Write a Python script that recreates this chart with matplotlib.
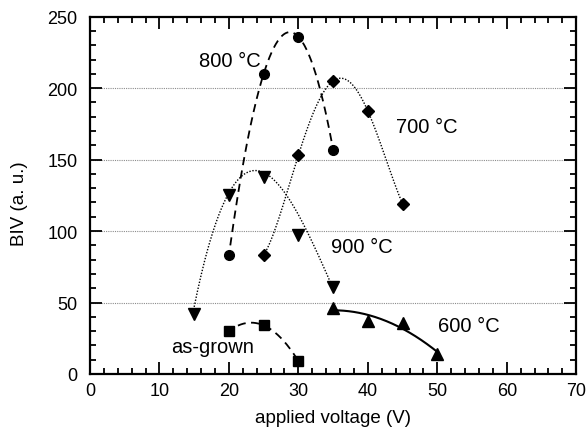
import numpy as np
import matplotlib
matplotlib.use('Agg')
import matplotlib.pyplot as plt
from matplotlib.ticker import MultipleLocator

plt.rcParams['font.family'] = ['Liberation Sans', 'DejaVu Sans']

#=========================#
# data
#=========================#

v_800 = [20, 25, 30, 35]
biv_800 = [83, 210, 236, 157]

v_700 = [25, 30, 35, 40, 45]
biv_700 = [83, 153, 205, 184, 119]

v_900 = [15, 20, 25, 30, 35]
biv_900 = [42, 125, 138, 97, 61]

# the 900 C guide curve does not go through its markers, so it is read separately
v_900_curve = [15.0, 16.6, 17.8, 19.0, 20.4, 22.6, 25.0, 26.9, 28.8, 30.7, 32.7, 34.3, 35.0]
biv_900_curve = [47, 80, 101, 119, 130, 138.5, 140.5, 135, 122, 106, 83, 67, 61]

v_600 = [35, 40, 45, 50]
biv_600 = [46, 37, 36, 14]

v_asgrown = [20, 25, 30]
biv_asgrown = [30, 34, 9]

labels = ['800 °C', '700 °C', '900 °C', '600 °C', 'as-grown']

#=========================#
# figure
#=========================#

fig = plt.figure(figsize=(5.88, 4.31), dpi=100)
ax = fig.add_axes([0.153, 0.130, 0.827, 0.829])

def fit_curve(x, y, deg, style, lw, x0=None, x1=None):
    p = np.polyfit(x, y, deg)
    xs = np.linspace(x0 if x0 is not None else min(x), x1 if x1 is not None else max(x), 200)
    ax.plot(xs, np.polyval(p, xs), color='k', linestyle=style, linewidth=lw, zorder=2)

dash = (0, (4.5, 3))
dot = (0, (1, 1.2))
fit_curve(v_800, biv_800, 3, dash, 1.3, x0=20.2)
fit_curve(v_700, biv_700, 4, dot, 1.0)
fit_curve(v_900_curve, biv_900_curve, 4, dot, 1.0)
fit_curve(v_600, biv_600, 2, '-', 1.5)
fit_curve(v_asgrown, biv_asgrown, 2, dash, 1.3, x0=21.3)

ms = 7
ax.plot(v_800, biv_800, 'o', color='k', markersize=ms, zorder=3)
ax.plot(v_700, biv_700, 'D', color='k', markersize=ms - 1, zorder=3)
ax.plot(v_900, biv_900, 'v', color='k', markersize=ms + 1, zorder=3)
ax.plot(v_600, biv_600, '^', color='k', markersize=ms + 1, zorder=3)
ax.plot(v_asgrown, biv_asgrown, 's', color='k', markersize=ms - 0.5, zorder=3)

fs = 14.5
ax.text(20.2, 219, labels[0], fontsize=fs, ha='center', va='center')
ax.text(48.5, 173, labels[1], fontsize=fs, ha='center', va='center')
ax.text(39.1, 89, labels[2], fontsize=fs, ha='center', va='center')
ax.text(54.5, 34, labels[3], fontsize=fs, ha='center', va='center')
ax.text(17.6, 19, labels[4], fontsize=fs, ha='center', va='center')

ax.set_xlim(0, 70)
ax.set_ylim(0, 250)
ax.xaxis.set_major_locator(MultipleLocator(10))
ax.xaxis.set_minor_locator(MultipleLocator(2))
ax.yaxis.set_major_locator(MultipleLocator(50))
ax.yaxis.set_minor_locator(MultipleLocator(10))
ax.tick_params(which='both', direction='in', top=True, right=True, width=1.3, labelsize=13)
ax.tick_params(which='major', length=8.5)
ax.tick_params(which='minor', length=4.3)
ax.tick_params(axis='y', pad=9)
ax.tick_params(axis='x', pad=5.5)
for s in ax.spines.values():
    s.set_linewidth(1.6)

for yv in [50, 100, 150, 200]:
    ax.axhline(yv, color='0.55', linestyle=(0, (1, 1)), linewidth=0.8, zorder=1)

ax.set_xlabel('applied voltage (V)', fontsize=13.5)
ax.set_ylabel('BIV (a. u.)', fontsize=13.5)
ax.xaxis.set_label_coords(0.5, -0.098)
ax.yaxis.set_label_coords(-0.128, 0.48)

fig.savefig('out.png', dpi=100)
